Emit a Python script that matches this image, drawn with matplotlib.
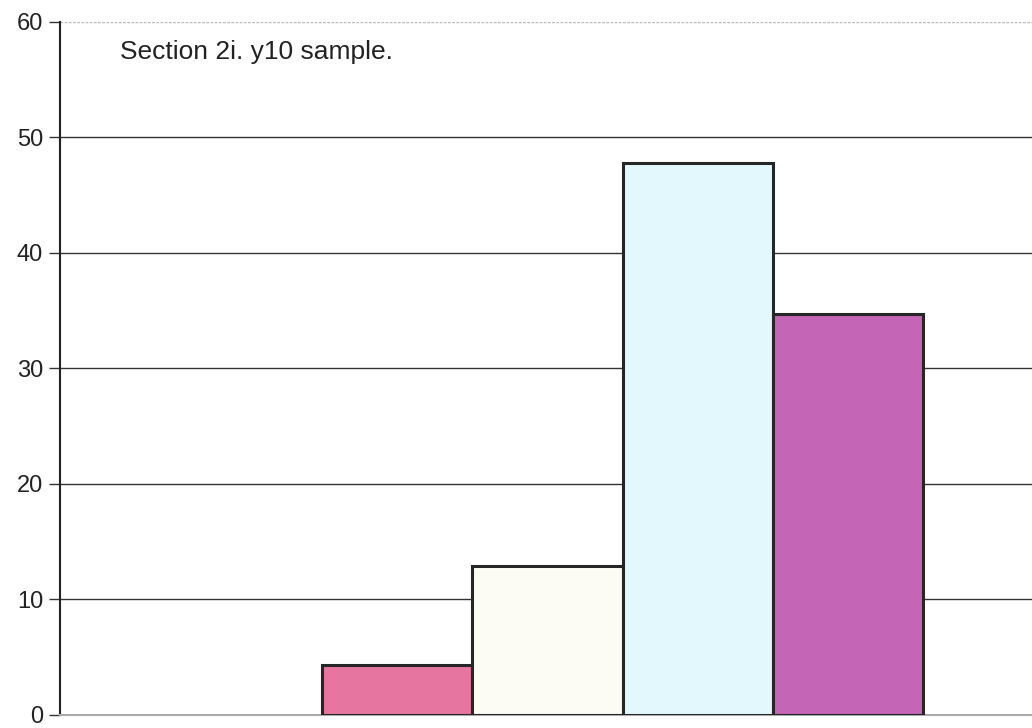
import matplotlib.pyplot as plt

plt.rcParams['font.family'] = ['Liberation Sans', 'DejaVu Sans']

# bar values
positions = [0, 1, 2, 3]
values = [4.3, 12.9, 47.8, 34.7]
colors = ['#e6769f', '#fdfcf4', '#e2f8fd', '#c465b5']
yticks = [0, 10, 20, 30, 40, 50, 60]

fig = plt.figure(figsize=(10.32, 7.28), dpi=100)
ax = fig.add_axes([0.058, 0.018, 0.942, 0.952])

for y in yticks[1:-1]:
    ax.axhline(y, color='#333333', lw=1.0, zorder=1)
ax.axhline(60, color='#bbbbbb', lw=1.0, ls=(0, (2, 1)), zorder=1)

ax.bar(positions, values, width=1.0, color=colors, edgecolor='#262626',
       linewidth=2.2, zorder=3)

ax.set_xlim(-2.247, 4.227)
ax.set_ylim(0, 60)
ax.set_yticks(yticks)
ax.set_xticks([])
ax.tick_params(axis='y', labelsize=17, length=8, width=1, color='#333333',
               labelcolor='#222222', pad=4)

for s in ['top', 'right']:
    ax.spines[s].set_visible(False)
ax.spines['left'].set_color('#222222')
ax.spines['left'].set_linewidth(1.5)
ax.spines['bottom'].set_color('#aaaaaa')
ax.spines['bottom'].set_linewidth(1.5)

fig.text(120 / 1032, 1 - 52 / 728, 'Section 2i. y10 sample.', fontsize=19,
         color='#222222', va='center', ha='left')

fig.savefig('out.png', dpi=100)
